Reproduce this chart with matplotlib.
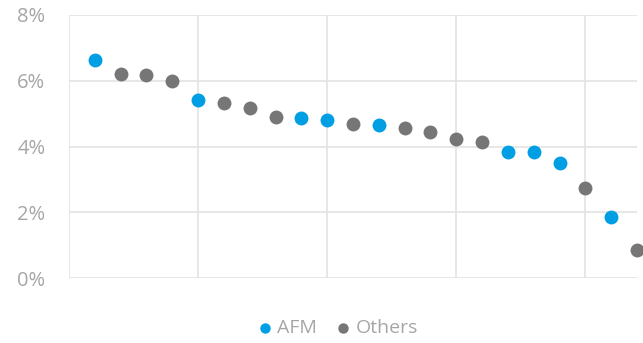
import matplotlib.pyplot as plt
from matplotlib.ticker import FuncFormatter

plt.rcParams["font.family"] = ["Open Sans", "DejaVu Sans"]

# share values (%) in rank order
positions = list(range(1, 23))
values = [6.63, 6.21, 6.17, 5.99, 5.41, 5.32, 5.17, 4.90, 4.87, 4.81, 4.68,
          4.65, 4.56, 4.44, 4.23, 4.14, 3.83, 3.83, 3.50, 2.74, 1.86, 0.85]
groups = ["AFM", "Others", "Others", "Others", "AFM", "Others", "Others", "Others",
          "AFM", "AFM", "Others", "AFM", "Others", "Others", "Others", "Others",
          "AFM", "AFM", "AFM", "Others", "AFM", "Others"]

colors = {"AFM": "#009FE3", "Others": "#767676"}
label_color = "#A6A6A6"
grid_color = "#E3E3E3"

fig = plt.figure(figsize=(6.43, 3.43), dpi=100)
ax = fig.add_axes([69 / 643, 1 - 278 / 343, (637 - 69) / 643, (278 - 15) / 343])

for name in ["AFM", "Others"]:
    xs = [p for p, g in zip(positions, groups) if g == name]
    ys = [v for v, g in zip(values, groups) if g == name]
    ax.scatter(xs, ys, s=100, color=colors[name], label=name, clip_on=False,
               zorder=3, linewidths=0)

ax.set_xlim(0, 22)
ax.set_ylim(0, 8)
ax.set_xticks([0, 5, 10, 15, 20])
ax.set_yticks([0, 2, 4, 6, 8])
ax.yaxis.set_major_formatter(FuncFormatter(lambda v, _: f"{v:.0f}%"))
ax.tick_params(axis="x", length=0, labelbottom=False)
ax.tick_params(axis="y", length=0, pad=17, labelsize=14.5, labelcolor=label_color)
ax.grid(True, color=grid_color, linewidth=1.2)
ax.set_axisbelow(True)
for s in ax.spines.values():
    s.set_visible(False)

fig.legend(loc="center", bbox_to_anchor=(338 / 643, 1 - 328 / 343), ncol=2,
           frameon=False, fontsize=14, labelcolor=label_color, markerscale=0.75,
           handlelength=0.7, handletextpad=0.3, columnspacing=1.0, borderaxespad=0)

fig.savefig("out.png", dpi=100)
